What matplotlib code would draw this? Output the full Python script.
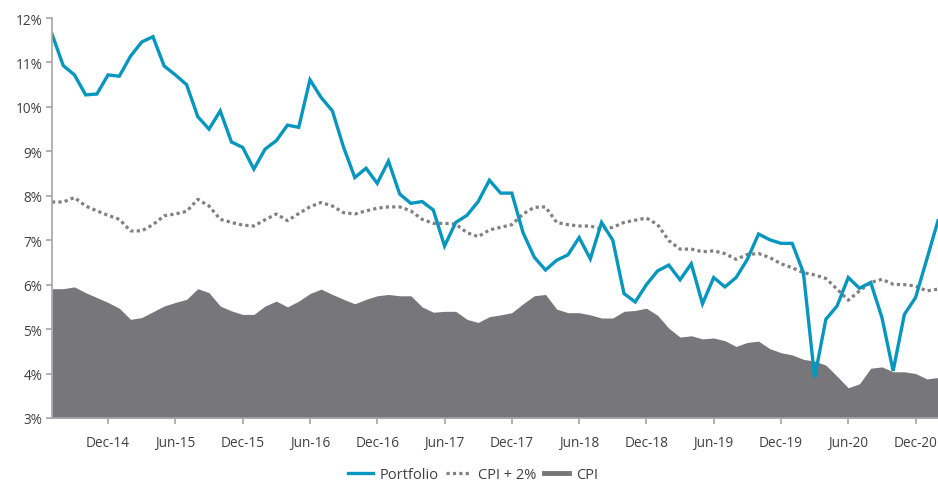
import matplotlib.pyplot as plt
from matplotlib.lines import Line2D

plt.rcParams['font.family'] = ['Open Sans', 'DejaVu Sans']

# monthly, Jul-14 .. Feb-21
portfolio = [
    11.64, 10.93, 10.72, 10.27, 10.29, 10.72, 10.69, 11.14, 11.46, 11.58,
    10.92, 10.72, 10.50, 9.78, 9.50, 9.91, 9.21, 9.09, 8.60, 9.05,
    9.24, 9.59, 9.54, 10.61, 10.21, 9.91, 9.09, 8.41, 8.62, 8.28,
    8.78, 8.04, 7.83, 7.87, 7.68, 6.87, 7.40, 7.56, 7.87, 8.35,
    8.06, 8.06, 7.17, 6.62, 6.33, 6.55, 6.67, 7.06, 6.58, 7.40,
    7.00, 5.80, 5.61, 6.00, 6.31, 6.44, 6.11, 6.47, 5.57, 6.16,
    5.95, 6.16, 6.57, 7.14, 7.01, 6.93, 6.93, 6.27, 3.91, 5.22,
    5.52, 6.16, 5.92, 6.05, 5.26, 4.06, 5.33, 5.71, 6.57, 7.44,
]

cpi_plus2 = [
    7.86, 7.86, 7.96, 7.77, 7.66, 7.56, 7.47, 7.21, 7.21, 7.35,
    7.55, 7.59, 7.65, 7.92, 7.77, 7.47, 7.40, 7.34, 7.32, 7.46,
    7.59, 7.44, 7.60, 7.75, 7.85, 7.77, 7.62, 7.59, 7.66, 7.72,
    7.75, 7.75, 7.66, 7.47, 7.38, 7.38, 7.36, 7.17, 7.08, 7.23,
    7.29, 7.35, 7.59, 7.74, 7.75, 7.40, 7.35, 7.32, 7.32, 7.25,
    7.29, 7.40, 7.45, 7.50, 7.35, 6.99, 6.80, 6.80, 6.74, 6.76,
    6.70, 6.57, 6.68, 6.70, 6.61, 6.47, 6.38, 6.27, 6.22, 6.14,
    5.90, 5.65, 5.86, 6.05, 6.12, 6.01, 6.00, 5.97, 5.86, 5.90,
]

cpi = [
    5.91, 5.91, 5.95, 5.82, 5.71, 5.60, 5.47, 5.22, 5.26, 5.39,
    5.52, 5.60, 5.67, 5.91, 5.82, 5.52, 5.41, 5.33, 5.33, 5.52,
    5.63, 5.50, 5.63, 5.80, 5.90, 5.78, 5.67, 5.57, 5.67, 5.75,
    5.78, 5.75, 5.75, 5.50, 5.38, 5.40, 5.40, 5.22, 5.15, 5.28,
    5.32, 5.37, 5.57, 5.75, 5.78, 5.45, 5.37, 5.37, 5.32, 5.25,
    5.25, 5.40, 5.42, 5.47, 5.31, 5.02, 4.82, 4.85, 4.78, 4.80,
    4.74, 4.61, 4.70, 4.73, 4.56, 4.47, 4.42, 4.32, 4.28, 4.19,
    3.94, 3.68, 3.77, 4.12, 4.15, 4.04, 4.04, 4.00, 3.88, 3.91,
]

tick_pos = [5, 11, 17, 23, 29, 35, 41, 47, 53, 59, 65, 71, 77]
tick_labels = ["Dec-14", "Jun-15", "Dec-15", "Jun-16", "Dec-16", "Jun-17", "Dec-17",
               "Jun-18", "Dec-18", "Jun-19", "Dec-19", "Jun-20", "Dec-20"]

BLUE = "#0796BE"
DARK = "#77777B"
DOT = "#808083"
AXIS = "#A6A6A6"
TEXT = "#404040"

x = list(range(len(portfolio)))

fig = plt.figure(figsize=(9.38, 4.85), dpi=100)
ax = fig.add_axes([52 / 938, 1 - 419 / 485, 1 - 52 / 938, 400 / 485])

ax.fill_between(x, 3, cpi, color=DARK, linewidth=0, zorder=1)
ax.plot(x, cpi_plus2, color=DOT, lw=2.3, linestyle=(0, (1, 1)),
        dash_capstyle="butt", zorder=2)
ax.plot(x, portfolio, color=BLUE, lw=2.4, solid_joinstyle="miter", zorder=3)

ax.set_xlim(0, len(portfolio) - 1)
ax.set_ylim(3, 12)
ax.set_yticks(range(3, 13))
ax.set_yticklabels([f"{v}%" for v in range(3, 13)])
ax.set_xticks(tick_pos)
ax.set_xticklabels(tick_labels)

for s in ["top", "right"]:
    ax.spines[s].set_visible(False)
for s in ["left", "bottom"]:
    ax.spines[s].set_color(AXIS)
    ax.spines[s].set_linewidth(1.2)
    ax.spines[s].set_zorder(4)

ax.tick_params(axis="both", colors=AXIS, length=4, width=1.2, labelsize=9.8,
               labelcolor=TEXT)
ax.tick_params(axis="x", pad=8)
ax.tick_params(axis="y", pad=3)

handles = [
    Line2D([], [], color=BLUE, lw=2.4),
    Line2D([], [], color=DOT, lw=2.3, linestyle=(0, (1, 1)), dash_capstyle="butt"),
    Line2D([], [], color=DARK, lw=3.5),
]
fig.legend(handles, ["Portfolio", "CPI + 2%", "CPI"], loc="center",
           bbox_to_anchor=(473 / 938, 1 - 476 / 485), ncol=3, frameon=False,
           fontsize=10.5, handlelength=1.7, handletextpad=0.5, columnspacing=0.5,
           labelcolor=TEXT)

fig.savefig("out.png", dpi=100)
